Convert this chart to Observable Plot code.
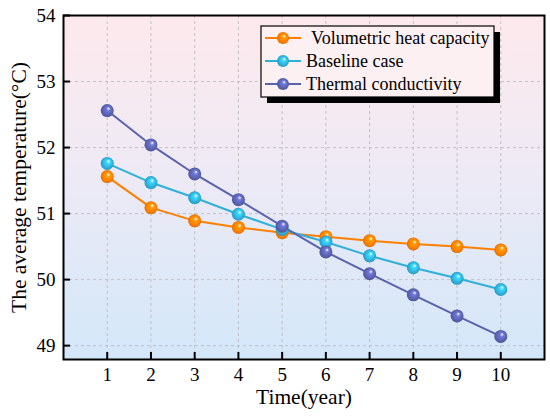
<!DOCTYPE html>
<html><head><meta charset="utf-8">
<script src="https://cdn.jsdelivr.net/npm/d3@7"></script>
<script src="https://cdn.jsdelivr.net/npm/@observablehq/plot@0.6"></script>
<style>body{margin:0;background:#fff}#chart{position:relative;width:550px;height:417px}</style>
</head><body><div id="chart"></div>
<script>
const years = [1,2,3,4,5,6,7,8,9,10];
const volumetric = [51.56,51.09,50.89,50.79,50.71,50.65,50.59,50.54,50.50,50.45];
const baseline = [51.76,51.47,51.24,50.99,50.76,50.57,50.36,50.18,50.02,49.85];
const thermal = [52.56,52.04,51.60,51.21,50.81,50.42,50.09,49.77,49.45,49.14];
const seriesNames = ["Volumetric heat capacity","Baseline case","Thermal conductivity"];
const seriesColors = ["#ff7f00","#2fb0dc","#5a62b0"];
const xTicks = [1,2,3,4,5,6,7,8,9,10];
const yTicks = [49,50,51,52,53,54];

const seriesValues = [volumetric, baseline, thermal];
const data = [];
seriesNames.forEach((s,i)=>years.forEach((y,j)=>data.push({series:s, idx:i, year:y, value:seriesValues[i][j]})));

const W=550,H=417,mL=63,mR=6,mT=15,mB=58;
const font = "'Liberation Serif','Times New Roman',serif";

const lineMarks = seriesNames.map((s,i)=>Plot.line(data.filter(d=>d.idx===i),{x:"year",y:"value",stroke:seriesColors[i],strokeWidth:2}));
const dotMarks = seriesNames.map((s,i)=>Plot.dot(data.filter(d=>d.idx===i),{x:"year",y:"value",r:6.5,fill:`url(#ball${i})`,stroke:"none"}));

const plot = Plot.plot({
  width:W,height:H,marginLeft:mL,marginRight:mR,marginTop:mT,marginBottom:mB,
  style:{fontFamily:font,fontSize:"19px",color:"#000",background:"transparent"},
  x:{domain:[0,11]},
  y:{domain:[48.79,54]},
  marks:[
    Plot.frame({fill:"url(#bg)",stroke:"none"}),
    Plot.gridX(xTicks,{stroke:"#b8b8b8",strokeOpacity:1,strokeDasharray:"3,3",strokeWidth:0.8}),
    Plot.gridY(yTicks,{stroke:"#b8b8b8",strokeOpacity:1,strokeDasharray:"3,3",strokeWidth:0.8}),
    Plot.tickX(xTicks,{x:d=>d,insetTop:H-mT-mB-7,stroke:"#000",strokeWidth:2}),
    Plot.tickY(yTicks,{y:d=>d,insetRight:W-mL-mR-7,stroke:"#000",strokeWidth:2}),
    Plot.axisX(xTicks,{tickSize:0,tickPadding:8,tickFormat:d3.format("d"),label:"Time(year)",labelAnchor:"center",labelOffset:44,labelArrow:"none",fontSize:19}),
    Plot.axisY(yTicks,{tickSize:0,tickPadding:8,tickFormat:d3.format("d"),label:"The average temperature(°C)",labelAnchor:"center",labelOffset:53,labelArrow:"none",fontSize:19}),
    ...lineMarks,
    ...dotMarks,
    Plot.frame({stroke:"#000",strokeWidth:2})
  ]
});

const svg = d3.select(plot);
const defs = svg.insert("defs",":first-child");
const bg = defs.append("linearGradient").attr("id","bg").attr("x1",0).attr("y1",0).attr("x2",0).attr("y2",1);
bg.append("stop").attr("offset","0%").attr("stop-color","#fde9ec");
bg.append("stop").attr("offset","45%").attr("stop-color","#eeeaf5");
bg.append("stop").attr("offset","100%").attr("stop-color","#d3e7f9");
seriesColors.forEach((c,i)=>{
  const g = defs.append("radialGradient").attr("id","ball"+i).attr("cx","50%").attr("cy","50%").attr("r","50%").attr("fx","62%").attr("fy","32%");
  g.append("stop").attr("offset","0%").attr("stop-color","#ffffff");
  g.append("stop").attr("offset","30%").attr("stop-color",d3.color(c).brighter(0.6).formatHex());
  g.append("stop").attr("offset","75%").attr("stop-color",c);
  g.append("stop").attr("offset","100%").attr("stop-color",d3.color(c).darker(0.4).formatHex());
});
svg.selectAll("[aria-label='x-axis label'] text, [aria-label='y-axis label'] text").style("font-size","21.5px");

// legend
const lg = svg.append("g").attr("font-family",font).attr("font-size",18).attr("text-anchor","start");
const lx=261, ly=26, lw=233, lh=71;
lg.append("rect").attr("x",lx+6).attr("y",ly+6).attr("width",lw).attr("height",lh).attr("fill","#000");
lg.append("rect").attr("x",lx).attr("y",ly).attr("width",lw).attr("height",lh).attr("fill","#fdf0f2").attr("stroke","#000").attr("stroke-width",1.2);
const rowY=[38,61,84];
seriesNames.forEach((s,i)=>{
  lg.append("line").attr("x1",lx+4).attr("x2",lx+40).attr("y1",rowY[i]).attr("y2",rowY[i]).attr("stroke",seriesColors[i]).attr("stroke-width",2);
  lg.append("circle").attr("cx",lx+22).attr("cy",rowY[i]).attr("r",6).attr("fill",`url(#ball${i})`);
  lg.append("text").attr("x",i===0?lx+50:lx+45).attr("y",rowY[i]).attr("dy","0.35em").attr("text-anchor","start").text(s);
});
document.getElementById("chart").appendChild(plot);
</script></body></html>
